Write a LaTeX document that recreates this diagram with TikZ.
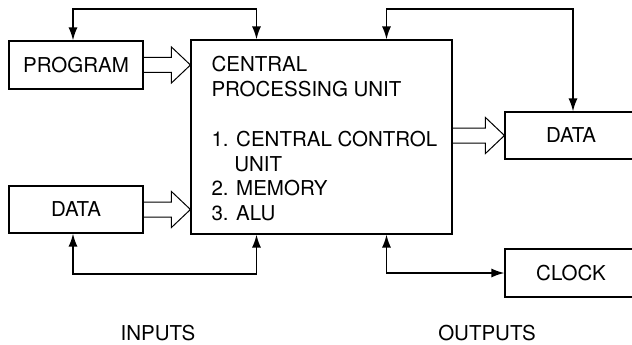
\documentclass[tikz,border=0pt]{standalone}
\usepackage{fontspec}
\setmainfont{TeX Gyre Heros}
\usetikzlibrary{arrows.meta,calc}

\begin{document}
\begin{tikzpicture}[x=1pt,y=-1pt,>={Latex[length=13pt,width=9pt]},
  box/.style={draw,line width=1.1pt,inner sep=0pt,font=\fontsize{20.5}{24.8}\selectfont},
  link/.style={<->,line width=1.6pt},
  fat/.style={line width=1pt,to path={let \p1=(\tikztostart),\p2=(\tikztotarget) in (\x1,\y1+7.5pt) -- (\x2-19pt,\y1+7.5pt) -- (\x2-19pt,\y1+18pt) -- (\x2,\y1) -- (\x2-19pt,\y1-18pt) -- (\x2-19pt,\y1-7.5pt) -- (\x1,\y1-7.5pt)}}]
\clip (0,0) rectangle (632,345);
\node[box,minimum width=134pt,minimum height=48pt] (prog) at (76,65) {PROGRAM};
\node[box,minimum width=134pt,minimum height=47pt] (indata) at (76,209.5) {DATA};
\node[box,minimum width=261pt,minimum height=194pt] (cpu) at (321.5,137) {};
\node[box,draw=none,align=left,anchor=north west] (cputext) at (211,56) {CENTRAL\\PROCESSING UNIT\\[24.8pt]1. CENTRAL CONTROL\\\hphantom{1.\ }UNIT\\2. MEMORY\\3. ALU};
\node[box,minimum width=132pt,minimum height=47pt] (outdata) at (571,135.5) {DATA};
\node[box,minimum width=132pt,minimum height=48pt] (clock) at (571,273) {CLOCK};
\node[box,draw=none] (inputs) at (158,333) {INPUTS};
\node[box,draw=none] (outputs) at (487,333) {OUTPUTS};
\draw[fat] (prog.east) to (cpu.west);
\draw[fat] (indata.east) to (cpu.west);
\draw[fat] (cpu.east |- outdata.west) to (outdata.west);
\coordinate (cpuTL) at ([xshift=-65pt]cpu.north);
\coordinate (cpuTR) at ([xshift=65pt]cpu.north);
\coordinate (cpuBL) at ([xshift=-65pt]cpu.south);
\coordinate (cpuBR) at ([xshift=65pt]cpu.south);
\coordinate (progTop) at ([xshift=-3pt]prog.north);
\coordinate (inBottom) at ([xshift=-3pt]indata.south);
\coordinate (outTop) at ([xshift=2pt]outdata.north);
\draw[link] (progTop) |- (cpuTL |- 0,9) -- (cpuTL);
\draw[link] (cpuTR) |- (outTop |- 0,9) -- (outTop);
\draw[link] (inBottom) |- (cpuBL |- 0,274) -- (cpuBL);
\draw[link] (cpuBR) |- (clock.west);
\end{tikzpicture}
\end{document}
